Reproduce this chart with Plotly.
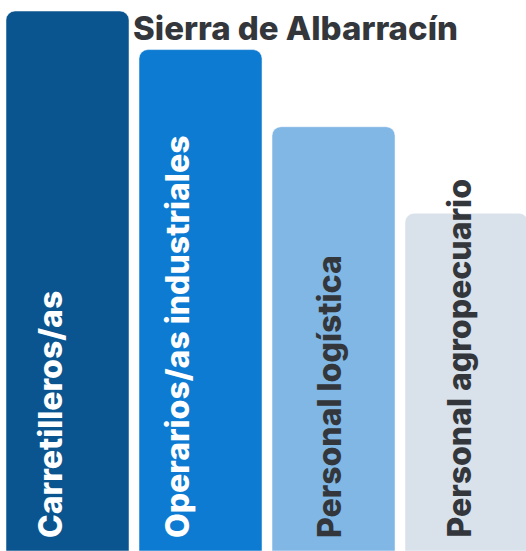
import plotly.graph_objects as go

# Datos (estimados de la imagen)
categorias = ["Carretilleros/as", "Operarios/as industriales", "Personal logística", "Personal agropecuario"]
valores = [98.0, 91.0, 77.0, 61.3]
colores = ["#0a558f", "#0e7bd2", "#80b7e4", "#d9e1ea"]
colores_texto = ["#ffffff", "#ffffff", "#33363b", "#33363b"]
titulo = "Sierra de Albarracín"

FUENTE = "Inter"
# desplazamiento horizontal de cada etiqueta (px), como en el original
desplazamientos = [-17, -23, -4, -8]

fig = go.Figure()
fig.add_trace(go.Bar(
    x=list(range(len(categorias))),
    y=valores,
    width=0.925,
    marker=dict(color=colores, cornerradius=9,
                line=dict(color="rgba(255,255,255,0.5)", width=1)),
    hoverinfo="skip",
    showlegend=False,
))

# Etiquetas verticales dentro de las barras
for i, (cat, col, dx) in enumerate(zip(categorias, colores_texto, desplazamientos)):
    fig.add_annotation(
        x=i, y=0, xref="x", yref="y",
        text=cat, textangle=-90,
        xanchor="center", yanchor="bottom", yshift=11, xshift=dx,
        showarrow=False,
        font=dict(family=FUENTE, size=32, color=col, weight=800),
    )

fig.update_layout(
    width=526, height=551,
    margin=dict(l=0, r=0, t=0, b=0),
    paper_bgcolor="white", plot_bgcolor="white",
    title=dict(text=titulo, x=133 / 526, xanchor="left", y=1 - 28 / 551, yanchor="middle",
               font=dict(family=FUENTE, size=33, color="#33363b", weight=800)),
    xaxis=dict(range=[-0.5075, 3.447], visible=False, fixedrange=True),
    yaxis=dict(range=[0, 100], visible=False, fixedrange=True),
)

# quitar el margen por defecto del body
fig.write_html("out.html", config={"displayModeBar": False},
               post_script="document.body.style.margin='0';")
